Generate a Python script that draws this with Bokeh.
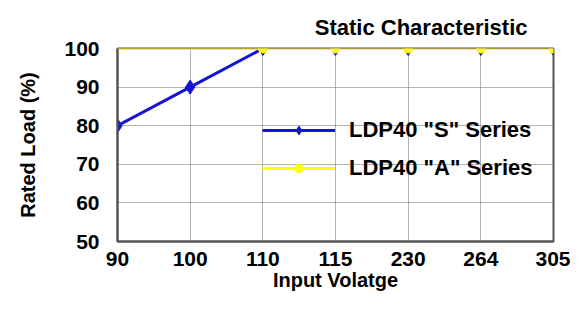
from bokeh.plotting import figure
from bokeh.models import Range1d, FixedTicker, Legend, LegendItem
from bokeh.embed import file_html
from bokeh.resources import INLINE

voltages = ["90", "100", "110", "115", "230", "264", "305"]
s_series = [80, 90, 100, 100, 100, 100, 100]
a_series = [100, 100, 100, 100, 100, 100, 100]
y_ticks = [50, 60, 70, 80, 90, 100]

xs = list(range(len(voltages)))
FONT = "Liberation Sans"

p = figure(width=570, height=293, output_backend="svg", toolbar_location=None,
           x_range=Range1d(0, len(voltages) - 1), y_range=Range1d(50, 100),
           min_border_left=117, min_border_right=17, min_border_top=48, min_border_bottom=45)

p.title.text = "Static Characteristic"
p.title.align = "right"
p.title.offset = 26
p.title.text_font = FONT
p.title.text_font_size = "22px"
p.title.text_font_style = "bold"
p.title.text_color = "black"
p.title.standoff = 18

for ax in (p.xaxis[0], p.yaxis[0]):
    ax.major_tick_line_color = None
    ax.minor_tick_line_color = None
    ax.axis_line_color = "#555555"
    ax.axis_line_width = 2
    ax.major_label_text_font = FONT
    ax.major_label_text_font_size = "21px"
    ax.major_label_text_font_style = "bold"
    ax.major_label_text_color = "black"
    ax.axis_label_text_font = FONT
    ax.axis_label_text_font_size = "20px"
    ax.axis_label_text_font_style = "bold"
    ax.axis_label_text_color = "black"

p.xaxis.ticker = FixedTicker(ticks=xs)
p.xaxis.major_label_overrides = {i: v for i, v in zip(xs, voltages)}
p.xaxis.axis_label = "Input Volatge"
p.xaxis.major_label_standoff = 4
p.xaxis.axis_label_standoff = 0
p.yaxis.ticker = FixedTicker(ticks=y_ticks)
p.yaxis.axis_label = "Rated Load (%)"
p.yaxis.major_label_standoff = 12
p.yaxis.axis_label_standoff = 22

for g in (p.xgrid[0], p.ygrid[0]):
    g.grid_line_color = "#666666"
    g.grid_line_dash = "1 1"
    g.grid_line_width = 1

p.outline_line_color = "#555555"
p.outline_line_width = 2

s_line = p.line(xs, s_series, line_color="#1414d2", line_width=3)
s_mark = p.scatter(xs, s_series, marker="diamond", size=14, color="#1414d2")
a_line = p.line(xs, a_series, line_color="#ffff00", line_width=3)
a_mark = p.scatter(xs[2:], a_series[2:], marker="circle", size=9, color="#ffff00")

legend = Legend(items=[
    LegendItem(label='LDP40 "S" Series', renderers=[s_line, s_mark]),
    LegendItem(label='LDP40 "A" Series', renderers=[a_line, a_mark]),
], location=(145, 60))
legend.background_fill_alpha = 0
legend.border_line_color = None
legend.label_text_font = FONT
legend.label_text_font_size = "22px"
legend.label_text_font_style = "bold"
legend.label_text_color = "black"
legend.glyph_width = 73
legend.glyph_height = 22
legend.label_height = 22
legend.label_standoff = 14
legend.spacing = 12
legend.padding = 0
legend.margin = 0
p.add_layout(legend, "center")

open("out.html", "w").write(file_html(p, INLINE))
